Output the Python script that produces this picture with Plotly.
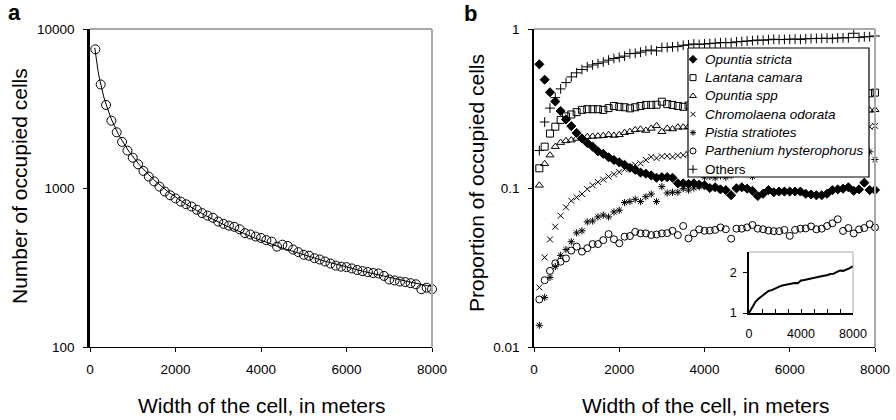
import numpy as np
import plotly.graph_objects as go

W, H = 896, 420
FONT = "Liberation Sans, Arial, sans-serif"


def fx(p):
    return p / W


def fy(p):
    return 1 - p / H


# ---------------- data ----------------
cell_width = list(range(125, 8001, 125))  # 64 cell widths (m)

occupied_cells = [7450, 4480, 3330, 2650, 2240, 1950, 1720, 1550, 1410, 1280,
                  1180, 1100, 1020, 950, 900, 860, 820, 790, 765, 730,
                  695, 670, 650, 615, 595, 580, 570, 550, 520, 510,
                  495, 485, 470, 460, 428, 440, 432, 410, 395, 380,
                  375, 362, 355, 345, 335, 325, 320, 318, 312, 305,
                  300, 296, 292, 290, 280, 266, 262, 258, 256, 252,
                  248, 231, 236, 231]

opuntia_stricta = [0.60, 0.48, 0.40, 0.35, 0.305, 0.27, 0.245, 0.222, 0.205, 0.192,
                   0.182, 0.170, 0.164, 0.156, 0.150, 0.145, 0.140, 0.134, 0.130, 0.125,
                   0.123, 0.120, 0.116, 0.117, 0.117, 0.116, 0.107, 0.107, 0.106, 0.107,
                   0.105, 0.104, 0.100, 0.101, 0.098, 0.097, 0.090, 0.0995, 0.101, 0.099,
                   0.096, 0.089, 0.092, 0.097, 0.094, 0.095, 0.095, 0.095, 0.095, 0.095,
                   0.092, 0.091, 0.090, 0.090, 0.092, 0.097, 0.098, 0.099, 0.101, 0.096,
                   0.098, 0.108, 0.097, 0.097]

lantana_camara = [0.133, 0.182, 0.220, 0.243, 0.268, 0.282, 0.290, 0.300, 0.310, 0.313,
                  0.313, 0.313, 0.310, 0.318, 0.328, 0.324, 0.322, 0.317, 0.322, 0.328,
                  0.333, 0.333, 0.334, 0.349, 0.337, 0.333, 0.328, 0.324, 0.330, 0.335,
                  0.332, 0.340, 0.345, 0.340, 0.348, 0.350, 0.355, 0.350, 0.358, 0.360,
                  0.365, 0.360, 0.368, 0.365, 0.370, 0.372, 0.375, 0.370, 0.378, 0.376,
                  0.380, 0.382, 0.385, 0.380, 0.388, 0.386, 0.390, 0.388, 0.392, 0.390,
                  0.395, 0.392, 0.394, 0.398]

opuntia_spp = [0.104, 0.142, 0.161, 0.182, 0.193, 0.198, 0.200, 0.205, 0.208, 0.210,
               0.211, 0.212, 0.213, 0.216, 0.214, 0.216, 0.223, 0.226, 0.232, 0.234,
               0.230, 0.237, 0.246, 0.226, 0.237, 0.235, 0.241, 0.241, 0.243, 0.245,
               0.246, 0.250, 0.252, 0.255, 0.254, 0.258, 0.260, 0.262, 0.263, 0.266,
               0.268, 0.270, 0.272, 0.274, 0.275, 0.278, 0.280, 0.281, 0.283, 0.285,
               0.287, 0.289, 0.290, 0.292, 0.294, 0.296, 0.297, 0.299, 0.300, 0.302,
               0.304, 0.306, 0.308, 0.310]

chromolaena_odorata = [0.0237, 0.0366, 0.0475, 0.0571, 0.0669, 0.0756, 0.0831, 0.0873, 0.0916, 0.0985,
                       0.104, 0.109, 0.113, 0.118, 0.122, 0.126, 0.131, 0.136, 0.140, 0.143,
                       0.150, 0.157, 0.154, 0.158, 0.159, 0.157, 0.160, 0.161, 0.164, 0.166,
                       0.168, 0.171, 0.173, 0.175, 0.178, 0.180, 0.182, 0.185, 0.187, 0.190,
                       0.192, 0.195, 0.197, 0.200, 0.202, 0.205, 0.207, 0.210, 0.212, 0.215,
                       0.217, 0.219, 0.222, 0.224, 0.226, 0.228, 0.231, 0.233, 0.235, 0.237,
                       0.239, 0.241, 0.243, 0.246]

pistia_stratiotes = [0.0137, 0.0205, 0.0274, 0.0320, 0.0377, 0.0410, 0.0459, 0.0522, 0.0538, 0.0612,
                     0.0620, 0.0658, 0.0675, 0.0658, 0.0707, 0.0725, 0.0810, 0.0822, 0.0849, 0.0822,
                     0.0882, 0.0916, 0.0822, 0.102, 0.093, 0.094, 0.094, 0.099, 0.097, 0.100,
                     0.102, 0.117, 0.118, 0.116, 0.119, 0.117, 0.120, 0.124, 0.125, 0.127,
                     0.118, 0.126, 0.128, 0.129, 0.131, 0.132, 0.133, 0.135, 0.136, 0.137,
                     0.138, 0.140, 0.141, 0.142, 0.143, 0.144, 0.145, 0.146, 0.147, 0.148,
                     0.149, 0.150, 0.169, 0.151]

parthenium_hysterophorus = [0.0199, 0.0263, 0.0301, 0.0336, 0.0344, 0.0361, 0.0404, 0.0428, 0.0398, 0.0418,
                            0.0444, 0.0444, 0.0470, 0.0513, 0.0476, 0.0449, 0.0494, 0.0499, 0.0530, 0.0518,
                            0.0518, 0.0506, 0.0510, 0.0518, 0.0520, 0.0538, 0.0506, 0.0577, 0.0482, 0.0518,
                            0.0549, 0.0538, 0.0540, 0.0545, 0.0565, 0.0550, 0.0480, 0.0555, 0.0555, 0.0565,
                            0.0585, 0.0555, 0.0550, 0.0540, 0.0535, 0.0535, 0.0545, 0.0500, 0.0545, 0.0555,
                            0.0557, 0.0573, 0.0550, 0.0555, 0.0577, 0.0600, 0.0636, 0.0537, 0.0560, 0.0518,
                            0.0549, 0.0560, 0.0592, 0.0565]

others = [0.172, 0.260, 0.318, 0.370, 0.420, 0.460, 0.500, 0.530, 0.556, 0.578,
          0.594, 0.606, 0.620, 0.637, 0.652, 0.663, 0.675, 0.700, 0.703, 0.715,
          0.730, 0.738, 0.728, 0.765, 0.766, 0.772, 0.775, 0.790, 0.795, 0.805,
          0.800, 0.805, 0.810, 0.815, 0.820, 0.822, 0.820, 0.830, 0.835, 0.840,
          0.845, 0.852, 0.850, 0.856, 0.862, 0.858, 0.860, 0.862, 0.865, 0.860,
          0.868, 0.870, 0.872, 0.874, 0.875, 0.870, 0.878, 0.880, 0.882, 0.940,
          0.885, 0.893, 0.895, 0.904]

inset_width = list(range(0, 8001, 250))
inset_values = [1.00, 1.15, 1.28, 1.36, 1.42, 1.50, 1.55, 1.57, 1.61, 1.64,
                1.68, 1.70, 1.72, 1.74, 1.75, 1.74, 1.81, 1.82, 1.84, 1.85,
                1.87, 1.90, 1.92, 1.93, 1.94, 1.97, 1.98, 2.02, 2.06, 2.05,
                2.08, 2.12, 2.17]

x_ticks = [0, 2000, 4000, 6000, 8000]

species_names = ["Opuntia stricta", "Lantana camara", "Opuntia spp",
                 "Chromolaena odorata", "Pistia stratiotes",
                 "Parthenium hysterophorus", "Others"]
species_values = [opuntia_stricta, lantana_camara, opuntia_spp,
                  chromolaena_odorata, pistia_stratiotes,
                  parthenium_hysterophorus, others]
species_italic = [True, True, True, True, True, True, False]

# styles
species_symbols = ["diamond", "square-open", "triangle-up-open", "x-thin-open",
                   "asterisk-open", "circle-open", "cross-thin-open"]
species_sizes = [7, 7, 7, 6, 6, 7, 7]

# ---------------- figure ----------------
fig = go.Figure()

# panel a: fitted curve (log-log quadratic fit of the data) + points
lx = np.log10(np.array(cell_width, dtype=float))
ly = np.log10(np.array(occupied_cells, dtype=float))
coef = np.polyfit(lx, ly, 2)
fit_x = np.linspace(112, 8000, 300)
fit_y = 10 ** np.polyval(coef, np.log10(fit_x))
fig.add_trace(go.Scatter(x=fit_x, y=fit_y, mode="lines",
                         line=dict(color="black", width=1),
                         xaxis="x", yaxis="y", showlegend=False, hoverinfo="skip"))
fig.add_trace(go.Scatter(x=cell_width, y=occupied_cells, mode="markers",
                         marker=dict(symbol="circle-open", size=9,
                                     color="black", line=dict(width=1, color="black")),
                         xaxis="x", yaxis="y", showlegend=False, cliponaxis=False))

for name, vals, sym, sz in zip(species_names, species_values, species_symbols, species_sizes):
    fig.add_trace(go.Scatter(
        x=cell_width, y=vals, mode="markers", name=name, showlegend=False,
        marker=dict(symbol=sym, size=sz, color="black",
                    line=dict(width=1, color="black")),
        xaxis="x2", yaxis="y2", cliponaxis=False))

# inset
fig.add_trace(go.Scatter(x=inset_width, y=inset_values, mode="lines",
                         line=dict(color="black", width=2),
                         xaxis="x3", yaxis="y3", showlegend=False))

# legend box drawn in its own (hidden) pixel-unit subplot so it sits above panel b
LEG_L, LEG_R, LEG_T, LEG_B = 688, 869, 48, 177
PAD = 3
leg_w, leg_h = LEG_R - LEG_L, LEG_B - LEG_T
fig.add_trace(go.Scatter(x=[0, leg_w, leg_w, 0, 0],
                         y=[0, 0, leg_h, leg_h, 0],
                         mode="lines", fill="toself", fillcolor="white",
                         line=dict(color="black", width=1.2),
                         xaxis="x4", yaxis="y4", showlegend=False,
                         hoverinfo="skip"))
row0, row_step = 11.3, 18.33
leg_ann = []
for i, (name, sym, sz, it) in enumerate(zip(species_names, species_symbols,
                                             species_sizes, species_italic)):
    yy = row0 + row_step * i
    fig.add_trace(go.Scatter(x=[5], y=[yy], mode="markers", showlegend=False,
                             marker=dict(symbol=sym, size=sz - 1, color="black",
                                         line=dict(width=1, color="black")),
                             xaxis="x4", yaxis="y4", cliponaxis=False,
                             hoverinfo="skip"))
    leg_ann.append(dict(text=f"<i>{name}</i>" if it else name,
                        x=15, y=yy, xref="x4", yref="y4",
                        xanchor="left", yanchor="middle", showarrow=False,
                        font=dict(family=FONT, size=13.5, color="black")))

tickfont = dict(family=FONT, size=13.5, color="black")
common_x = dict(range=[0, 8000], tickvals=x_ticks, ticks="outside", ticklen=4,
                tickcolor="black", showline=True, linecolor="black", linewidth=1,
                showgrid=False, zeroline=False, tickfont=tickfont,
                ticklabelstandoff=6, automargin=False)

fig.update_layout(
    width=W, height=H,
    margin=dict(l=0, r=0, t=0, b=0, autoexpand=False),
    paper_bgcolor="white", plot_bgcolor="rgba(0,0,0,0)",
    font=dict(family=FONT, color="black"),
    showlegend=False,
    xaxis=dict(domain=[fx(90), fx(432)], anchor="y", **common_x),
    yaxis=dict(domain=[fy(347), fy(29)], anchor="x", type="log", range=[2, 4],
               tickvals=[100, 1000, 10000], ticktext=["100", "1000", "10000"],
               ticks="outside", ticklen=4, tickcolor="black",
               showline=True, linecolor="black", linewidth=2.5,
               showgrid=False, zeroline=False, tickfont=tickfont,
               ticklabelstandoff=6, automargin=False),
    xaxis2=dict(domain=[fx(534), fx(875)], anchor="y2", **common_x),
    yaxis2=dict(domain=[fy(347), fy(29)], anchor="x2", type="log", range=[-2, 0],
                tickvals=[0.01, 0.1, 1], ticktext=["0.01", "0.1", "1"],
                ticks="outside", ticklen=4, tickcolor="black",
                showline=True, linecolor="black", linewidth=1.5,
                showgrid=False, zeroline=False, tickfont=tickfont,
                ticklabelstandoff=6, automargin=False),
    xaxis3=dict(domain=[fx(749), fx(853)], anchor="y3", range=[0, 8000],
                tickvals=[0, 4000, 8000], ticks="inside", ticklen=4,
                tickcolor="black", showline=True, linecolor="black", linewidth=1.5,
                minor=dict(dtick=1000, ticks="inside", ticklen=4, tickcolor="black"),
                showgrid=False, zeroline=False,
                tickfont=dict(family=FONT, size=12.5, color="black"),
                ticklabelstandoff=8, automargin=False),
    yaxis3=dict(domain=[fy(313), fy(252)], anchor="x3", range=[1, 2.52],
                tickvals=[1, 2], ticks="outside", ticklen=4, tickcolor="black",
                showline=True, linecolor="black", linewidth=1.5,
                showgrid=False, zeroline=False,
                tickfont=dict(family=FONT, size=12.5, color="black"),
                ticklabelstandoff=4, automargin=False),
    xaxis4=dict(domain=[fx(LEG_L - PAD), fx(LEG_R + PAD)], anchor="y4",
                range=[-PAD, leg_w + PAD],
                showline=False, showticklabels=False, ticks="", showgrid=False,
                zeroline=False, fixedrange=True, automargin=False),
    yaxis4=dict(domain=[fy(LEG_B + PAD), fy(LEG_T - PAD)], anchor="x4",
                range=[leg_h + PAD, -PAD],
                showline=False, showticklabels=False, ticks="", showgrid=False,
                zeroline=False, fixedrange=True, automargin=False),
)

# grey top/right frame lines
shapes = []
for xr, yr, w in [("x", "y", 2), ("x2", "y2", 2), ("x3", "y3", 1)]:
    shapes.append(dict(type="line", xref=f"{xr} domain", yref=f"{yr} domain",
                       x0=0, x1=1, y0=1, y1=1, line=dict(color="#a8a8a8", width=w)))
    shapes.append(dict(type="line", xref=f"{xr} domain", yref=f"{yr} domain",
                       x0=1, x1=1, y0=0, y1=1, line=dict(color="#a8a8a8", width=w)))
fig.update_layout(shapes=shapes)

title_font = dict(family=FONT, size=21, color="black")
ann = [
    dict(text="<b>a</b>", x=fx(14), y=fy(12), xanchor="center", yanchor="middle",
         font=dict(family=FONT, size=22, color="black")),
    dict(text="<b>b</b>", x=fx(470), y=fy(14), xanchor="center", yanchor="middle",
         font=dict(family=FONT, size=22, color="black")),
    dict(text="Width of the cell, in meters", x=fx(261), y=fy(405),
         xanchor="center", yanchor="middle", font=title_font),
    dict(text="Width of the cell, in meters", x=fx(705), y=fy(405),
         xanchor="center", yanchor="middle", font=title_font),
    dict(text="Number of occupied cells", x=fx(19), y=fy(186), textangle=-90,
         xanchor="center", yanchor="middle", font=title_font),
    dict(text="Proportion of occupied cells", x=fx(476), y=fy(183), textangle=-90,
         xanchor="center", yanchor="middle", font=title_font),
]
for a in ann:
    a.update(xref="paper", yref="paper", showarrow=False)
fig.update_layout(annotations=ann + leg_ann)

fig.write_html("out.html")
